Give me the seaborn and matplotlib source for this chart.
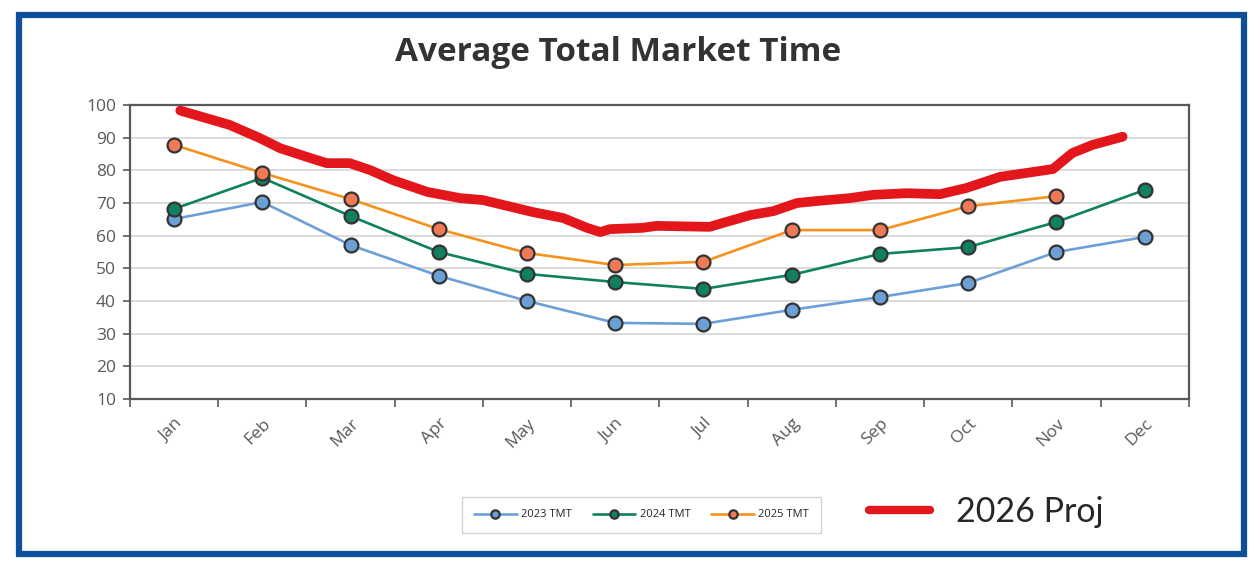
import numpy as np
import pandas as pd
import matplotlib
matplotlib.use("Agg")
import matplotlib.pyplot as plt
from matplotlib.lines import Line2D
from matplotlib.patches import Rectangle
import seaborn as sns

# Data
months = ["Jan", "Feb", "Mar", "Apr", "May", "Jun", "Jul", "Aug", "Sep", "Oct", "Nov", "Dec"]
tmt_2023 = [65.1, 70.3, 57.1, 47.7, 40.0, 33.3, 33.0, 37.3, 41.2, 45.5, 55.0, 59.6]
tmt_2024 = [68.2, 77.7, 66.0, 55.0, 48.3, 45.8, 43.7, 48.0, 54.4, 56.5, 64.2, 74.0]
tmt_2025 = [87.8, 79.2, 71.2, 62.0, 54.7, 51.0, 52.0, 61.7, 61.7, 69.0, 72.1]

# hand-drawn 2026 projection (month position, value)
proj_pos = [0.07, 0.63, 0.97, 1.20, 1.54, 1.73, 1.99, 2.22, 2.48, 2.87, 3.24, 3.50,
            4.07, 4.41, 4.68, 4.83, 4.94, 5.31, 5.47, 6.07, 6.22, 6.53, 6.79, 7.06,
            7.28, 7.66, 7.92, 8.30, 8.68, 8.98, 9.36, 9.66, 9.96, 10.18, 10.41, 10.75]
proj_val = [98.3, 93.9, 89.9, 86.8, 83.8, 82.2, 82.2, 80.1, 77.0, 73.4, 71.5, 70.9,
            67.2, 65.4, 62.4, 61.1, 62.0, 62.4, 63.0, 62.7, 63.9, 66.3, 67.5, 70.0,
            70.6, 71.5, 72.5, 73.0, 72.7, 74.6, 78.0, 79.2, 80.4, 85.3, 87.8, 90.3]

series = [
    ("2023 TMT", tmt_2023, "#6c9fd6", "#6c9fd6"),
    ("2024 TMT", tmt_2024, "#0f8060", "#0f8060"),
    ("2025 TMT", tmt_2025, "#f5921e", "#f07a55"),
]

sns.set_style("white")
plt.rcParams["font.family"] = ["Open Sans", "DejaVu Sans"]

fig = plt.figure(figsize=(12.58, 5.61), dpi=100)
ax = fig.add_axes([0.1033, 0.2888, 0.8417, 0.524])

for label, vals, lc, fc in series:
    sns.lineplot(x=np.arange(len(vals)), y=vals, ax=ax, color=lc, linewidth=1.9,
                 marker="o", markersize=10, markerfacecolor=fc,
                 markeredgecolor="#333333", markeredgewidth=1.6, label=label, zorder=3)

sns.lineplot(x=proj_pos, y=proj_val, ax=ax, sort=False, color="#e3171b",
             linewidth=7, solid_capstyle="round", solid_joinstyle="round",
             label="_nolegend_", zorder=4)

ax.set_xlim(-0.5, 11.5)
ax.set_ylim(10, 100)
ax.set_yticks(range(10, 101, 10))
ax.yaxis.grid(True, color="#d4d4d4", linewidth=1.2)
ax.set_axisbelow(True)

# boundaries get tick marks, month names sit in between
ax.set_xticks(np.arange(-0.5, 12, 1))
ax.set_xticklabels([])
ax.set_xticks(np.arange(12), minor=True)
ax.set_xticklabels(months, minor=True, rotation=45, ha="right",
                   rotation_mode="anchor", fontsize=12.5, color="#595959")
ax.tick_params(axis="x", which="major", length=6, width=1.2, color="#595959", direction="out", bottom=True)
ax.tick_params(axis="x", which="minor", length=0, pad=12)
ax.tick_params(axis="y", length=5, width=1.2, color="#595959", direction="out", left=True,
               labelsize=12.5, labelcolor="#595959", pad=5)
for sp in ax.spines.values():
    sp.set_color("#595959")
    sp.set_linewidth(1.6)
ax.set_xlabel("")
ax.set_ylabel("")

leg = ax.legend(loc="center", bbox_to_anchor=(0.510, 0.082), bbox_transform=fig.transFigure,
                ncol=3, fontsize=8, frameon=True, fancybox=False, edgecolor="#c8c8c8",
                handlelength=3.8, columnspacing=1.9, handletextpad=0.4, borderpad=1.1,
                markerscale=0.6)
leg.get_frame().set_linewidth(1.0)

proj_handle = Line2D([], [], color="#e3171b", linewidth=6, solid_capstyle="round")
fig.legend([proj_handle], ["2026 Proj"], loc="center", bbox_to_anchor=(0.784, 0.087),
           frameon=False, prop={"family": ["Lato", "DejaVu Sans"], "size": 24.5},
           handlelength=1.8, handletextpad=0.75)

fig.text(0.491, 0.907, "Average Total Market Time", ha="center", va="center",
         fontsize=24, fontweight="bold", color="#333333")

fig.patches.append(Rectangle((0.0155, 0.013), 0.973, 0.96, transform=fig.transFigure,
                             fill=False, edgecolor="#0d4f9a", linewidth=4.5))

fig.savefig("out.png", dpi=100)
